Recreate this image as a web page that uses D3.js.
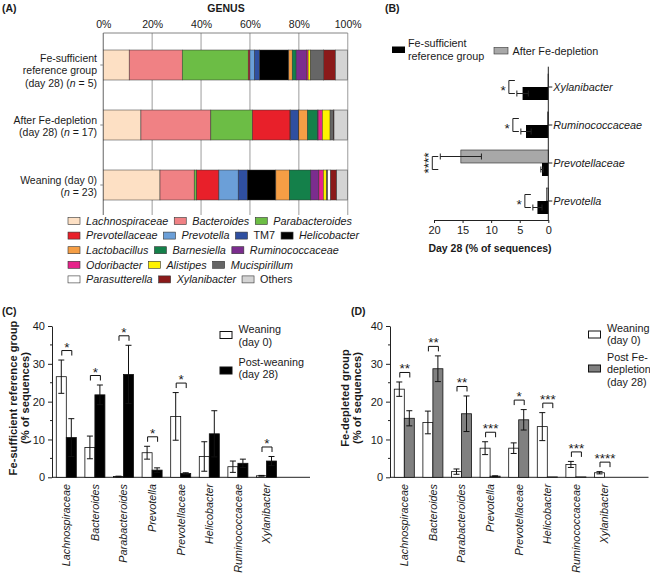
<!DOCTYPE html>
<html><head><meta charset="utf-8">
<script src="https://cdn.jsdelivr.net/npm/d3@7"></script>
<style>
body{margin:0;background:#fff;}
svg{font-family:"Liberation Sans",Arial,Helvetica,sans-serif;fill:#1a1a1a;}
</style></head><body>
<svg id="fig" width="650" height="580"></svg>
<script>
// ---------------- DATA ----------------
// Panel A: genus composition (% of sequences)
const genera = ["Lachnospiraceae","Bacteroides","Parabacteroides","Prevotellaceae","Prevotella","TM7","Helicobacter","Lactobacillus","Barnesiella","Ruminococcaceae","Odoribacter","Alistipes","Mucispirillum","Parasutterella","Xylanibacter","Others"];
const genusColors = ["#fde0c4","#f08184","#6cbd45","#e8202a","#6b9fd8","#2f4fa0","#000000","#f59e45","#14804a","#7b2d8e","#e6238a","#fff200","#666666","#ffffff","#8b1a1a","#d4d4d4"];
const groupsA = ["Fe-sufficient reference group (day 28) (n = 5)","After Fe-depletion (day 28) (n = 17)","Weaning (day 0) (n = 23)"];
const groupLinesA = [["Fe-sufficient","reference group","(day 28) (n = 5)"],["After Fe-depletion","(day 28) (n = 17)"],["Weaning (day 0)","(n = 23)"]];
const compSufficient = [10.6,21.7,27.0,0.7,1.9,2.1,11.9,1.4,1.6,4.3,0.6,1.0,5.2,0.2,4.8,5.0];
const compDepleted   = [15.4,28.6,17.0,15.4,0.3,3.2,0.1,3.5,4.2,0.2,1.7,3.2,1.4,0.1,0.1,5.6];
const compWeaning    = [23.2,14.0,1.0,9.1,7.9,3.7,11.7,5.5,8.8,3.3,1.8,1.4,0.4,1.2,2.5,4.5];
const pctTicks = [0,20,40,60,80,100];

// Panel B
const taxaB = ["Xylanibacter","Ruminococcaceae","Prevotellaceae","Prevotella"];
const bSufficient = [4.5,3.9,1.1,1.9];
const bSufficientErr = [1.0,0.9,0.2,0.8];
const bDepleted = [0.05,0.15,15.3,0.3];
const bDepletedErr = [0,0,3.6,0];
const bSig = ["*","*","****","*"];
const bTicks = [20,15,10,5,0];

// Panels C and D
const taxaCD = ["Lachnospiraceae","Bacteroides","Parabacteroides","Prevotella","Prevotellaceae","Helicobacter","Ruminococcaceae","Xylanibacter"];
const cWeaning = [26.6,7.9,0.2,6.5,16.1,5.5,2.8,0.4];
const cWeaningErr = [4.4,3.0,0.1,1.7,6.3,3.9,1.5,0.1];
const cPost = [10.5,21.8,27.2,1.9,1.0,11.5,3.7,4.3];
const cPostErr = [5.0,2.6,7.7,0.6,0.2,6.1,1.1,1.2];
const cSig = ["*","*","*","*","*","","","*"];
const dWeaning = [23.3,14.5,1.5,7.7,7.7,13.4,3.4,1.2];
const dWeaningErr = [1.9,3.0,0.7,1.7,1.4,3.7,0.8,0.3];
const dPost = [15.6,28.7,16.8,0.3,15.2,0.1,0.1,0.0];
const dPostErr = [2.0,3.4,4.7,0.1,2.7,0,0,0];
const dSig = ["**","**","**","***","*","***","***","****"];
const yTicksCD = [0,10,20,30,40];

// ---------------- DRAW ----------------
const svg = d3.select("#fig");
const FS = 10.8, INK = "#1a1a1a", STAR = 13.5;
const nonItalic = new Set(["TM7","Others"]);

function label(x, y, t, opts = {}) {
  return svg.append("text").attr("x", x).attr("y", y).text(t)
    .attr("font-size", opts.size || FS)
    .attr("font-weight", opts.bold ? "bold" : null)
    .attr("font-style", opts.italic ? "italic" : null)
    .attr("text-anchor", opts.anchor || "start")
    .attr("fill", INK);
}
// writes a line, rendering the letter n in "(n = ...)" in italics
function richLine(sel, str) {
  const m = str.match(/^(.*\()n( = .*)$/);
  if (m) {
    sel.append("tspan").text(m[1]);
    sel.append("tspan").attr("font-style", "italic").text("n");
    sel.append("tspan").text(m[2]);
  } else sel.text(str);
}

// ===== Panel A =====
label(2, 12, "(A)", {bold: true, size: 10.5});
label(226, 12, "GENUS", {bold: true, size: 10.5, anchor: "middle"});
const xA = d3.scaleLinear().domain([0, 100]).range([103.3, 347.7]);
const yA = d3.scaleBand().domain(groupsA).range([35, 215]).paddingInner(0.5).paddingOuter(0.25);
const gridTop = 33, gridBot = 215;

svg.append("g").selectAll("line").data(pctTicks).join("line")
  .attr("x1", d => xA(d)).attr("x2", d => xA(d))
  .attr("y1", gridTop).attr("y2", gridBot)
  .attr("stroke", d => d === 0 ? "#888" : "#b3b3b3").attr("stroke-width", 1.3);
svg.append("line").attr("x1", xA(0)).attr("x2", xA(100)).attr("y1", gridTop).attr("y2", gridTop)
  .attr("stroke", "#666").attr("stroke-width", 0.8);

const axA = svg.append("g").attr("transform", `translate(0,${gridTop})`)
  .call(d3.axisTop(xA).tickValues(pctTicks).tickSize(0).tickPadding(5).tickFormat(d => d + "%"));
axA.select(".domain").remove();
axA.selectAll("text").attr("font-size", 10.5).attr("font-family", "Liberation Sans, Arial").attr("fill", INK);

const compsA = [compSufficient, compDepleted, compWeaning];
groupsA.forEach((g, gi) => {
  const vals = compsA[gi];
  const stacked = [];
  let acc = 0;
  vals.forEach((v, i) => { stacked.push({i, x0: acc, x1: acc + v}); acc += v; });
  svg.append("g").selectAll("rect").data(stacked).join("rect")
    .attr("x", d => xA(d.x0)).attr("width", d => Math.max(0, xA(d.x1) - xA(d.x0)))
    .attr("y", yA(g)).attr("height", yA.bandwidth())
    .attr("fill", d => genusColors[d.i]).attr("stroke", "#333").attr("stroke-width", 0.5);
  const c = yA(g) + yA.bandwidth() / 2;
  svg.append("line").attr("x1", xA(0) - 3).attr("x2", xA(0)).attr("y1", c).attr("y2", c)
    .attr("stroke", "#888").attr("stroke-width", 1);
  const lines = groupLinesA[gi];
  const first = c - 1 - (lines.length - 2) * 2;
  lines.forEach((ln, li) => {
    const t = svg.append("text").attr("x", 97).attr("y", first + li * 12.4)
      .attr("text-anchor", "end").attr("font-size", 10.5).attr("fill", INK);
    richLine(t, ln);
  });
});

// legend A
const legendRowsA = [[0,1,2],[3,4,5,6],[7,8,9],[10,11,12],[13,14,15]];
legendRowsA.forEach((row, ri) => {
  const cy = 221 + ri * 14.6;
  let x = 68;
  row.forEach(i => {
    svg.append("rect").attr("x", x).attr("y", cy - 3.5).attr("width", 12).attr("height", 7)
      .attr("fill", genusColors[i]).attr("stroke", "#333").attr("stroke-width", 0.6);
    x += 18;
    const t = label(x, cy + 3.8, genera[i], {italic: !nonItalic.has(genera[i])});
    x += t.node().getComputedTextLength() + 6;
  });
});

// ===== Panel B =====
label(385, 12, "(B)", {bold: true, size: 10.5});
const xB = d3.scaleLinear().domain([0, 20]).range([548.3, 434]);
const yB = d3.scaleBand().domain(taxaB).range([68, 220]);
const barH = 13;
// legend B
svg.append("rect").attr("x", 392).attr("y", 46.5).attr("width", 13).attr("height", 6.5).attr("fill", "#000");
label(408, 47, "Fe-sufficient");
label(408, 59.5, "reference group");
svg.append("rect").attr("x", 494).attr("y", 47.5).attr("width", 14).attr("height", 6.5)
  .attr("fill", "#a8a8a8").attr("stroke", "#333").attr("stroke-width", 0.6);
label(512.5, 54.5, "After Fe-depletion");

const gB = svg.append("g");
taxaB.forEach((t, i) => {
  const c = yB(t) + yB.bandwidth() / 2;
  // depleted (gray, upper)
  gB.append("rect").attr("x", xB(bDepleted[i])).attr("width", xB(0) - xB(bDepleted[i]))
    .attr("y", c - barH).attr("height", barH).attr("fill", "#a8a8a8").attr("stroke", "#222").attr("stroke-width", 0.6);
  // sufficient (black, lower)
  gB.append("rect").attr("x", xB(bSufficient[i])).attr("width", xB(0) - xB(bSufficient[i]))
    .attr("y", c).attr("height", barH).attr("fill", "#000");
  // error bars
  [[bDepleted[i], bDepletedErr[i], c - barH / 2], [bSufficient[i], bSufficientErr[i], c + barH / 2]].forEach(([v, e, yy]) => {
    if (e <= 0) return;
    gB.append("line").attr("x1", xB(v - e)).attr("x2", xB(v + e)).attr("y1", yy).attr("y2", yy).attr("stroke", "#222").attr("stroke-width", 1);
    [v - e, v + e].forEach(w => gB.append("line").attr("x1", xB(w)).attr("x2", xB(w)).attr("y1", yy - 3).attr("y2", yy + 3).attr("stroke", "#222").attr("stroke-width", 1));
  });
  // bracket
  const ext = Math.max(bDepleted[i] + bDepletedErr[i], bSufficient[i] + bSufficientErr[i]);
  const xv = xB(ext) - 8, xs = xB(ext) - 2;
  gB.append("path").attr("d", `M${xs},${c - barH / 2}H${xv}V${c + barH / 2}H${xs}`)
    .attr("fill", "none").attr("stroke", "#222").attr("stroke-width", 1);
  if (bSig[i].length > 1) {
    gB.append("text").attr("transform", `translate(${xv + 0.5},${c}) rotate(-90)`)
      .attr("text-anchor", "middle").attr("font-size", STAR).attr("fill", INK).text(bSig[i]);
  } else {
    gB.append("text").attr("x", xv - 3).attr("y", c + 7.5).attr("text-anchor", "end")
      .attr("font-size", STAR).attr("fill", INK).text(bSig[i]);
  }
  // category tick + label
  gB.append("line").attr("x1", xB(0)).attr("x2", xB(0) + 4).attr("y1", c).attr("y2", c).attr("stroke", "#222");
  label(xB(0) + 5, c + 4, t, {italic: true});
});
svg.append("line").attr("x1", xB(0)).attr("x2", xB(0)).attr("y1", 66.7).attr("y2", 220).attr("stroke", "#222");
const axB = svg.append("g").attr("transform", "translate(0,220)")
  .call(d3.axisBottom(xB).tickValues(bTicks).tickSize(3).tickPadding(3).tickSizeOuter(0));
axB.selectAll("text").attr("font-size", 11).attr("font-family", "Liberation Sans, Arial").attr("fill", INK);
axB.selectAll("line,path").attr("stroke", "#222");
label(490, 252, "Day 28 (% of sequences)", {bold: true, size: 10.5, anchor: "middle"});

// ===== Panels C & D =====
function groupedPanel(cfg) {
  const y = d3.scaleLinear().domain([0, 40]).range([477.3, 326]);
  const x0 = d3.scaleBand().domain(taxaCD).range([cfg.ax, cfg.ax + 8 * 28.6]).paddingInner(0.3).paddingOuter(0.15);
  const bw = x0.bandwidth() / 2;
  const g = svg.append("g");
  // axis
  const ay = g.append("g").attr("transform", `translate(${cfg.ax},0)`)
    .call(d3.axisLeft(y).tickValues(yTicksCD).tickSize(4).tickPadding(3).tickSizeOuter(0));
  ay.selectAll("text").attr("font-size", 11).attr("font-family", "Liberation Sans, Arial").attr("fill", INK);
  ay.selectAll("line,path").attr("stroke", "#222");
  g.selectAll(".minor").data([5,15,25,35]).join("line")
    .attr("x1", cfg.ax - 2).attr("x2", cfg.ax).attr("y1", d => y(d)).attr("y2", d => y(d)).attr("stroke", "#222");
  g.append("line").attr("x1", cfg.ax).attr("x2", cfg.axEnd).attr("y1", y(0)).attr("y2", y(0)).attr("stroke", "#222");
  // y title
  const yt = g.append("text").attr("transform", `translate(${cfg.titleX},398) rotate(-90)`)
    .attr("text-anchor", "middle").attr("font-weight", "bold").attr("font-size", 11.2).attr("fill", INK);
  yt.append("tspan").attr("x", 0).attr("dy", 0).text(cfg.title);
  yt.append("tspan").attr("x", 0).attr("dy", 12).text("(% of sequences)");
  taxaCD.forEach((t, i) => {
    const bx = x0(t);
    const series = [[cfg.w[i], cfg.we[i], "#fff", bx], [cfg.p[i], cfg.pe[i], cfg.fill, bx + bw]];
    series.forEach(([v, e, f, xx]) => {
      g.append("rect").attr("x", xx).attr("width", bw).attr("y", y(v)).attr("height", y(0) - y(v))
        .attr("fill", f).attr("stroke", "#111").attr("stroke-width", 0.8);
      if (e > 0) {
        const cx = xx + bw / 2;
        g.append("line").attr("x1", cx).attr("x2", cx).attr("y1", y(Math.max(0, v - e))).attr("y2", y(v + e)).attr("stroke", "#111");
        [v + e, v - e].forEach(w => { if (w > 0) g.append("line").attr("x1", cx - 3).attr("x2", cx + 3).attr("y1", y(w)).attr("y2", y(w)).attr("stroke", "#111"); });
      }
    });
    // significance bracket
    if (cfg.sig[i]) {
      const ext = Math.max(cfg.w[i] + cfg.we[i], cfg.p[i] + cfg.pe[i]);
      const by = y(ext) - 9.5;
      const xa = bx + bw / 2 + 0.5, xb = bx + 1.5 * bw + 0.5;
      g.append("path").attr("d", `M${xa},${by + 5}V${by}H${xb}V${by + 5}`).attr("fill", "none").attr("stroke", "#111");
      g.append("text").attr("x", (xa + xb) / 2).attr("y", by + 1).attr("text-anchor", "middle")
        .attr("font-size", STAR).attr("fill", INK).text(cfg.sig[i]);
    }
    // category label
    g.append("text").attr("transform", `translate(${bx + bw + 3.8},484) rotate(-90)`)
      .attr("text-anchor", "end").attr("font-style", "italic").attr("font-size", 10.8).attr("fill", INK).text(t);
  });
  // legend
  const L = cfg.legend;
  g.append("rect").attr("x", L.x).attr("y", L.y1 - 3.5).attr("width", 12).attr("height", 7).attr("fill", "#fff").attr("stroke", "#111");
  g.append("rect").attr("x", L.x).attr("y", L.y2 - 3.5).attr("width", 12).attr("height", 7).attr("fill", cfg.fill).attr("stroke", "#111");
  L.lines1.forEach((s, k) => label(L.x + 18.5, L.t1 + k * 12.6, s));
  L.lines2.forEach((s, k) => label(L.x + 18.5, L.t2 + k * 12.6, s));
}

label(2, 315, "(C)", {bold: true, size: 10.5});
groupedPanel({ax: 52, axEnd: 310, w: cWeaning, we: cWeaningErr, p: cPost, pe: cPostErr, sig: cSig,
  fill: "#000", title: "Fe-sufficient reference group", titleX: 17,
  legend: {x: 220, y1: 335, y2: 370.5, t1: 333, t2: 365.5, lines1: ["Weaning","(day 0)"], lines2: ["Post-weaning","(day 28)"]}});

label(351, 315, "(D)", {bold: true, size: 10.5});
groupedPanel({ax: 390, axEnd: 648.5, w: dWeaning, we: dWeaningErr, p: dPost, pe: dPostErr, sig: dSig,
  fill: "#808080", title: "Fe-depleted group", titleX: 349,
  legend: {x: 588.5, y1: 334.5, y2: 368.5, t1: 331.5, t2: 360.5, lines1: ["Weaning","(day 0)"], lines2: ["Post Fe-","depletion","(day 28)"]}});
</script>
</body></html>
